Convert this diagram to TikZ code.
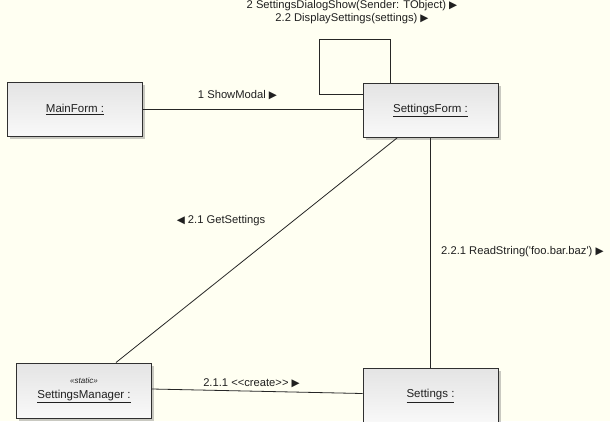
\documentclass[tikz,border=0pt]{standalone}
\usepackage{fontspec}
\setmainfont{Liberation Sans}[Ligatures=TeXOff]
\newfontfamily\arrowfont{DejaVu Sans}
\usetikzlibrary{shadows}
\definecolor{paper}{HTML}{FFFFF2}
\definecolor{boxtop}{HTML}{E4E4E4}
\definecolor{boxbot}{HTML}{F9F9F9}
\definecolor{edge}{HTML}{303030}
\definecolor{ink}{HTML}{202020}
\newcommand{\rarr}{{\arrowfont\fontsize{10.5}{10}\selectfont ▶}}
\newcommand{\larr}{{\arrowfont\fontsize{10.5}{10}\selectfont ◀}}
\begin{document}
\begin{tikzpicture}[x=1pt,y=-1pt,
  obj/.style={draw=edge, line width=1pt, top color=boxtop, bottom color=boxbot,
    minimum width=135pt, minimum height=54pt, inner sep=0pt, align=center,
    font=\fontsize{11.5}{13.5}\selectfont, text=ink,
    drop shadow={shadow xshift=2.5pt, shadow yshift=-2.5pt, opacity=0.35, fill=black!60}},
  link/.style={draw=black!85, line width=0.8pt},
  msg/.style={font=\fontsize{11.2}{13}\selectfont, text=ink, inner sep=0pt}]
  \fill[paper] (0,0) rectangle (610,421);
  \useasboundingbox (0,0) rectangle (610,421);

  \coordinate (loopTL) at (319,39);
  \coordinate (loopTR) at (390,39);

  % objects
  \node[obj] (mainform) at (75,109.5) {\underline{MainForm :}};
  \node[obj] (settingsform) at (430.5,110.5) {\underline{SettingsForm :}};
  \node[obj, minimum height=55pt] (manager) at (84,390.5)
    {{\fontsize{8}{9}\selectfont\itshape «static»}\\[1pt]\underline{SettingsManager :}};
  \node[obj, minimum height=56pt] (settings) at (430.5,396) {\underline{Settings :}};

  % links between objects
  \draw[link] (mainform.east) -- (settingsform.west |- mainform.east);
  \draw[link] ([xshift=-40.5pt]settingsform.north) -- (loopTR) -- (loopTL)
    |- ([yshift=16.5pt]settingsform.west);
  \draw[link] ([xshift=-33.5pt]settingsform.south) -- ([xshift=32pt]manager.north);
  \draw[link] (settingsform.south) -- (settings.north);
  \draw[link] ([yshift=1.5pt]manager.east) -- ([yshift=2.5pt]settings.west);

  % message labels
  \node[msg, align=center] (selfmsg) at (352,12)
    {2 SettingsDialogShow(Sender: TObject) \rarr\\2.2 DisplaySettings(settings) \rarr};
  \node[msg] (showmodal) at (237.5,95) {1 ShowModal \rarr};
  \node[msg] (getsettings) at (221,221) {\larr\ 2.1 GetSettings};
  \node[msg, anchor=west] (readstring) at (441,252) {2.2.1 ReadString('foo.bar.baz') \rarr};
  \node[msg] (create) at (251.5,383) {2.1.1 <<create>> \rarr};
\end{tikzpicture}
\end{document}
